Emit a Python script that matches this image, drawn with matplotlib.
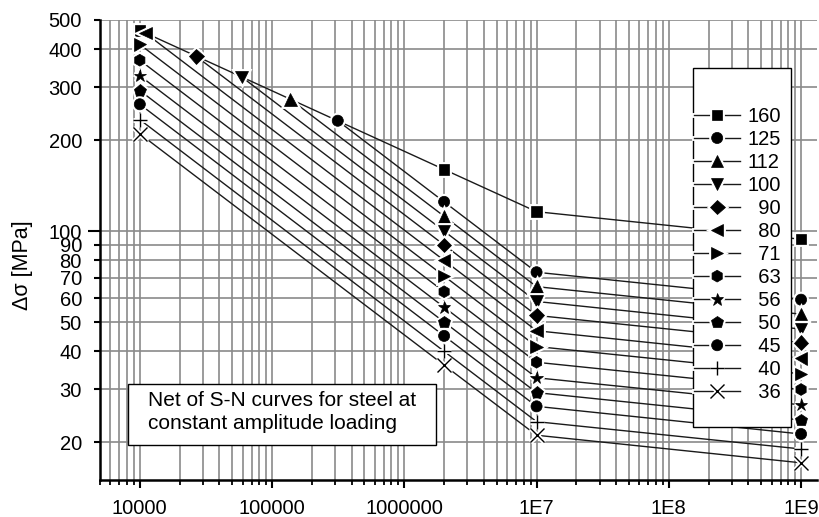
import matplotlib
matplotlib.use('Agg')
import matplotlib.pyplot as plt
from matplotlib.lines import Line2D
from matplotlib.patches import Rectangle
import matplotlib.patheffects as pe
from matplotlib.ticker import FixedLocator, FixedFormatter, NullFormatter

plt.rcParams['font.family'] = ['Liberation Sans', 'DejaVu Sans']

# ---------------- data ----------------
categories = ['160', '125', '112', '100', '90', '80', '71', '63', '56', '50', '45', '40', '36']
start_N = [1e4, 314000, 137700, 58900, 26700, 11050, 1e4, 1e4, 1e4, 1e4, 1e4, 1e4, 1e4]
start_S = [462, 232, 273, 324, 379, 452, 415, 368, 327, 292, 263, 234, 210]
N_points = [2e6, 1e7, 1e9]
S_2e6 = [160, 125, 112, 100, 90, 80, 71, 63, 56, 50, 45, 40, 36]
S_1e7 = [116, 73.1, 65.5, 58.5, 52.6, 46.8, 41.5, 36.8, 32.7, 29.2, 26.3, 23.4, 21.1]
S_1e9 = [94, 59.3, 53.1, 47.4, 42.7, 37.9, 33.7, 29.9, 26.6, 23.7, 21.3, 19.0, 17.1]

y_major_ticks = [100]
y_minor_ticks = [20, 30, 40, 50, 60, 70, 80, 90, 200, 300, 400, 500]
x_ticks = [1e4, 1e5, 1e6, 1e7, 1e8, 1e9]
x_tick_labels = ['10000', '100000', '1000000', '1E7', '1E8', '1E9']
box_text = 'Net of S-N curves for steel at\nconstant amplitude loading'

# ---------------- style ----------------
FS = 14.5
markers = ['s', 'o', '^', 'v', 'D', '<', '>', 'h', '*', 'p', 'o', '+', 'x']
msizes = [7.5, 8, 9, 9, 7.5, 9, 9, 8.5, 9.5, 9, 8, 10, 10]
halo = [pe.Stroke(linewidth=3.5, foreground='white'), pe.Normal()]

W, H = 820, 517
fig = plt.figure(figsize=(W / 100, H / 100), dpi=100)
ax = fig.add_axes([100 / W, (H - 480) / H, 717 / W, 460 / H])
ax.set_xscale('log')
ax.set_yscale('log')
ax.set_xlim(5000, 1.32e9)
ax.set_ylim(15, 500)

ax.set_axisbelow(True)
ax.grid(True, which='both', axis='both', color='#8a8a8a', lw=1.2)

handles = []
for i, cat in enumerate(categories):
    xs = [start_N[i]] + N_points
    ys = [start_S[i], S_2e6[i], S_1e7[i], S_1e9[i]]
    ax.plot(xs, ys, color='#1a1a1a', lw=1.0, zorder=3, solid_capstyle='butt')
    mew = 1.0 if markers[i] in ('+', 'x') else 0.5
    ax.plot(xs, ys, ls='none', marker=markers[i], ms=msizes[i], color='black',
            mew=mew, zorder=4, path_effects=halo, clip_on=False)
    handles.append(Line2D([], [], color='#1a1a1a', lw=1.0, marker=markers[i],
                          ms=msizes[i], mfc='black', mec='black', mew=mew,
                          path_effects=halo))

# ticks
ax.yaxis.set_major_locator(FixedLocator(y_major_ticks))
ax.yaxis.set_major_formatter(FixedFormatter([str(v) for v in y_major_ticks]))
ax.yaxis.set_minor_locator(FixedLocator(y_minor_ticks))
ax.yaxis.set_minor_formatter(FixedFormatter([str(v) for v in y_minor_ticks]))
ax.xaxis.set_major_locator(FixedLocator(x_ticks))
ax.xaxis.set_major_formatter(FixedFormatter(x_tick_labels))
ax.xaxis.set_minor_formatter(NullFormatter())

ax.tick_params(axis='y', which='major', direction='out', length=8.5, width=1.5,
               pad=4.5, labelsize=FS, colors='black')
ax.tick_params(axis='y', which='minor', direction='out', length=4.5, width=1.5,
               pad=8.5, labelsize=FS, colors='black')
ax.tick_params(axis='x', which='major', direction='out', length=5.5, width=1.5,
               pad=8, labelsize=FS, colors='black')
ax.tick_params(axis='x', which='minor', direction='out', length=3.5, width=1.3)

for s in ['top', 'right']:
    ax.spines[s].set_visible(False)
for s in ['left', 'bottom']:
    ax.spines[s].set_linewidth(1.8)

ax.set_ylabel('Δσ [MPa]', fontsize=15.5)
ax.yaxis.set_label_coords(-0.0934, 0.467)

# legend frame + legend
fig.patches.append(Rectangle((693 / W, 1 - 427 / H), 98 / W, 359 / H,
                             transform=fig.transFigure, facecolor='white',
                             edgecolor='black', lw=1.0, zorder=2))
labels = [c.rjust(3, '\u2007') for c in categories]
leg = fig.legend(handles, labels, loc='upper left',
                 bbox_to_anchor=(694 / W, 1 - 107 / H),
                 frameon=False, fontsize=FS, borderpad=0, borderaxespad=0,
                 handlelength=2.3, handletextpad=0.35, labelspacing=0.2,
                 numpoints=1)
leg.set_zorder(5)

# text box
fig.patches.append(Rectangle((128 / W, 1 - 445 / H), 308 / W, 61 / H,
                             transform=fig.transFigure, facecolor='white',
                             edgecolor='black', lw=1.0, zorder=2))
fig.text(148 / W, 1 - 412 / H, box_text, fontsize=15, ha='left', va='center',
         linespacing=1.3, zorder=5)

fig.savefig('out.png', dpi=100)
